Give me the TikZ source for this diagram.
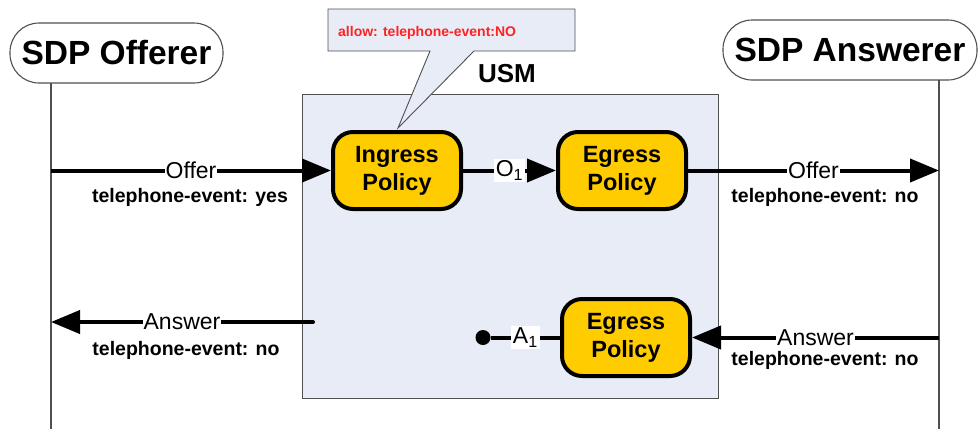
\documentclass[tikz,border=0pt]{standalone}
\usepackage{fontspec}
\setmainfont{Liberation Sans}
\usetikzlibrary{arrows.meta}
\definecolor{boxbg}{HTML}{E8ECF6}
\definecolor{pol}{HTML}{FFCC00}
\definecolor{edgegray}{HTML}{505050}
\definecolor{callred}{HTML}{FF2222}
\begin{document}
\begin{tikzpicture}[x=1pt,y=-1pt,
  pill/.style={draw=edgegray,line width=1.1pt,rounded corners=29pt,fill=white,
    font=\fontsize{33.5}{36}\selectfont\bfseries,inner sep=0pt},
  policy/.style={draw=black,line width=4pt,rounded corners=20pt,fill=pol,
    minimum width=128pt,minimum height=77pt,align=center,inner sep=0pt,
    font=\fontsize{23.5}{28}\selectfont\bfseries},
  life/.style={draw=edgegray,line width=1.1pt},
  msg/.style={line width=4pt,-{Triangle[length=29pt,width=23pt]}},
  plain/.style={line width=4pt},
  lbl/.style={fill=white,inner sep=1pt,font=\fontsize{23}{26}\selectfont},
  sub/.style={inner sep=0pt,font=\fontsize{19.5}{22}\selectfont\bfseries}]
\useasboundingbox (0,0) rectangle (979,429);

% USM box
\draw[draw=edgegray,line width=0.9pt,fill=boxbg] (302,94) rectangle (718,398);
\node[font=\fontsize{26}{30}\selectfont\bfseries] (usm) at (507,74) {USM};

% callout
\draw[draw=edgegray,line width=0.9pt,fill=boxbg]
  (328,9) -- (575,9) -- (575,51) -- (474,51) -- (398,128) -- (430,51) -- (328,51) -- cycle;
\node[anchor=west,text=callred,inner sep=0pt,font=\fontsize{14}{16}\selectfont\bfseries]
  (allow) at (338,33) {allow: telephone-event:NO};

% participants
\node[pill,minimum width=213pt,minimum height=60pt] (off) at (116.5,53) {SDP Offerer};
\node[pill,minimum width=254pt,minimum height=60pt] (ans) at (850,50) {SDP Answerer};
\coordinate (offBot) at (51,83);
\coordinate (offEnd) at (51,429);
\coordinate (ansBot) at (939,80);
\coordinate (ansEnd) at (939,429);
\draw[life] (offBot) -- (offEnd);
\draw[life] (ansBot) -- (ansEnd);

% policies
\node[policy] (ing) at (397,170.5) {Ingress\\Policy};
\node[policy] (eg1) at (622,170.5) {Egress\\Policy};
\node[policy] (eg2) at (626,337.5) {Egress\\Policy};

% offer flow
\coordinate (o1) at (51,170.5);
\coordinate (o2) at (939,170.5);
\draw[msg] (o1) -- node[lbl] (lo1) {Offer} (ing.west);
\draw[msg] (ing.east) -- node[lbl,inner sep=2pt] (lO) {O\textsubscript{1}} (eg1.west);
\draw[msg] (eg1.east) -- node[lbl] (lo2) {Offer} (o2);
\node[sub] (te1) at (190,197) {telephone-event: yes};
\node[sub] (te2) at (825,197) {telephone-event: no};

% answer flow
\coordinate (a1) at (939,337.5);
\draw[msg] (a1) -- node[lbl] (la1) {Answer} (eg2.east);
\node[sub] (te3) at (825,360) {telephone-event: no};
\node[circle,fill=black,minimum size=15pt,inner sep=0pt] (dot) at (483,337.5) {};
\draw[plain] (eg2.west) -- node[lbl,inner sep=2pt] (lA) {A\textsubscript{1}} (dot);
\coordinate (a2s) at (313,322);
\coordinate (a2e) at (51,322);
\draw[msg,line cap=round] (a2s) -- node[lbl] (la2) {Answer} (a2e);
\node[sub] (te4) at (186,350) {telephone-event: no};
\end{tikzpicture}
\end{document}
